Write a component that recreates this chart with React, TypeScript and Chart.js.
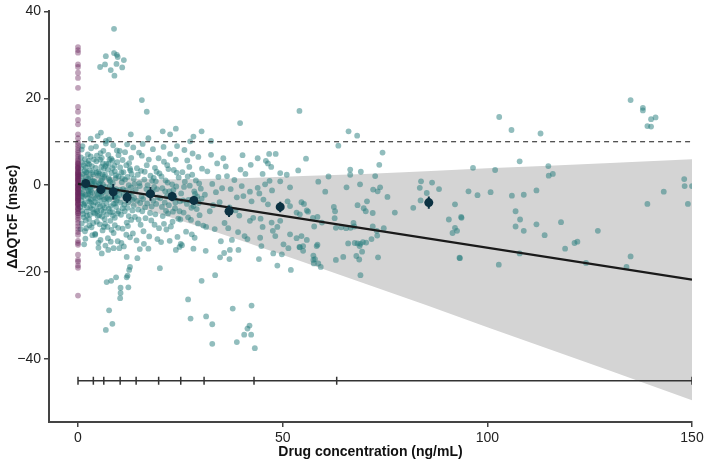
import React, { useEffect, useRef } from 'react';
import { Chart, registerables } from 'chart.js';
Chart.register(...registerables);

const FONT = "'Liberation Sans', Arial, sans-serif";

const xTickValues = [0, 50, 100, 150];
const yTickValues = [-40, -20, 0, 20, 40];
const xMin = -7.085;
const xMax = 150;
const yMin = -54.5;
const yMax = 40;

const refLineY = 10;
const refLineX = [-5.6, 150];

const fitX = [0, 150];
const fitY = [0.3, -21.75];

const bandX = [0, 5, 10, 15, 20, 30, 40, 55, 70, 85, 100, 115, 130, 150];
const bandUpper = [3.2, 2.3, 1.7, 1.4, 1.3, 1.4, 1.6, 2.1, 2.6, 3.2, 3.9, 4.5, 5.1, 6.0];
const bandLower = [-2.6, -3.1, -4.1, -5.2, -6.6, -9.6, -12.8, -17.7, -22.6, -27.6, -32.7, -37.7, -42.7, -49.5];

const meanX = [1.9, 5.6, 8.6, 12.0, 17.7, 23.0, 28.3, 36.9, 49.4, 85.7];
const meanY = [0.4, -1.0, -1.5, -2.8, -2.0, -2.6, -3.5, -6.0, -5.0, -4.0];
const meanErr = [0.5, 1.1, 1.8, 1.3, 1.6, 1.1, 1.0, 1.3, 1.2, 1.4];

const binEdges = [0, 3.75, 6.3, 10.3, 14.2, 19.7, 25.1, 30.8, 43.0, 63.2, 150];
const binBarY = -45;

const placeboY = [
  31.8, 31.1, 30.5, 27.8, 27.2, 25.9, 24.7, 22.4, 18.0, 16.9, 15.0, 14.0, 11.7, 10.8, 9.8, 9.2,
  8.6, 8.0, 7.5, 7.0, 6.5, 6.0, 5.6, 5.2, 4.8, 4.5, 4.2, 3.9, 3.6, 3.3, 3.0, 2.7, 2.4, 2.1, 1.8,
  1.5, 1.2, 0.9, 0.6, 0.3, 0.0, -0.3, -0.6, -0.9, -1.2, -1.5, -1.8, -2.1, -2.4, -2.7, -3.0, -3.3,
  -3.6, -3.9, -4.2, -4.5, -4.8, -5.2, -5.6, -6.0, -6.5, -7.0, -7.5, -8.0, -8.7, -9.4, -10.1,
  -10.8, -11.4, -12.8, -13.3, -13.7, -16.0, -17.2, -17.6, -18.5, -19.0, -25.4,
  5.0, 4.0, 3.0, 2.0, 1.0, 0.2, -0.8, -1.7, -2.6, -3.5, -4.4, -5.4, -6.4, 2.5, 1.4, -0.1, -1.0,
  -2.0, -3.1,
];

const obsPoints: [number, number][] = [
  // high outliers
  [8.8,36.0],[6.8,29.7],[8.8,30.4],[9.5,30.0],[9.7,29.5],[11.2,28.8],[6.6,27.8],[5.4,27.2],[8.0,26.5],
  [9.4,27.9],[10.8,27.1],[8.9,25.2],[15.6,19.6],[16.8,16.9],
  [3.1,10.7],[5.6,12.1],[6.8,10.2],[12.9,11.7],[20.7,12.4],[22.5,11.7],[23.9,13.0],[27.4,10.1],
  [28.2,11.2],[30.2,12.4],[32.5,10.2],[39.6,14.3],[54.1,17.1],
  // low outliers, 0-60
  [5.8,-15.7],[7.4,-14.9],[10.1,-14.5],[11.9,-16.5],[12.7,-18.8],[12.5,-19.5],[11.9,-21.2],[12.1,-20.8],
  [12.3,-23.5],[10.4,-23.6],[10.4,-24.8],[10.3,-26.0],[7.0,-22.3],[8.1,-22.0],[9.3,-21.2],[7.6,-28.8],
  [8.4,-31.9],[6.8,-33.3],[14.5,-16.8],[15.1,-14.7],[17.2,-14.6],[20.0,-19.1],[23.9,-14.9],[24.8,-14.2],
  [25.1,-13.5],[26.9,-26.3],[27.5,-30.7],[28.2,-14.6],[30.2,-22.0],[31.2,-15.1],[31.3,-30.2],[32.8,-32.0],
  [32.8,-36.5],[33.5,-20.7],[34.7,-16.6],[35.7,-15.6],[37.0,-17.0],[37.1,-14.9],[37.8,-28.4],[38.8,-36.1],
  [39.2,-14.9],[40.6,-34.4],[41.4,-33.0],[41.9,-32.3],[42.3,-34.4],[42.4,-27.7],[43.2,-37.5],[44.2,-17.0],
  [44.8,-14.0],[47.7,-15.7],[48.7,-18.5],[49.8,-15.9],[51.4,-14.5],[52.0,-19.5],[54.1,-14.2],[55.0,-15.1],
  [57.5,-16.2],[57.5,-17.2],[58.3,-14.0],[58.7,-18.0],[4.2,-11.4],[5.0,-13.2],
  // conc 0-4
  [0.5,2.1],[0.8,-3.5],[1.0,5.2],[1.2,-0.8],[1.4,-7.4],[1.6,3.3],[1.8,-2.2],[2.0,0.6],[2.2,-5.1],[2.4,7.1],
  [2.6,-1.4],[2.8,-9.2],[3.0,1.8],[3.2,-4.0],[3.4,4.4],[3.6,-0.2],[3.8,-6.3],[0.6,-10.1],[0.9,8.2],[1.1,-1.9],
  [1.3,1.1],[1.5,-4.6],[1.7,6.0],[1.9,-8.1],[2.1,-0.3],[2.3,2.9],[2.5,-3.0],[2.7,4.8],[2.9,-6.8],[3.1,-1.1],
  [3.3,0.4],[3.5,-11.5],[3.7,2.5],[3.9,-2.8],[0.7,3.9],[1.0,-5.9],[1.3,-2.7],[1.6,0.9],[1.9,4.1],[2.2,-7.0],
  [2.5,1.5],[2.8,-3.8],[3.1,6.6],[3.4,-5.5],[3.7,-8.7],[0.4,-1.6],[1.1,9.0],[1.8,-12.3],[2.4,-1.0],[3.0,-2.0],
  [3.6,3.0],[2.0,-9.9],[1.5,-13.6],[3.2,8.5],[2.6,5.6],[1.2,-6.6],[0.9,0.0],[3.8,1.0],[2.9,-0.6],[1.7,-4.1],
  [0.5,-5.0],[0.7,6.4],[0.9,-8.8],[1.1,2.6],[1.3,-4.3],[1.5,-0.4],[1.7,-10.6],[1.9,1.9],[2.1,-6.1],[2.3,5.0],
  [2.5,-2.1],[2.7,-7.8],[2.9,3.4],[3.1,-3.3],[3.3,-9.7],[3.5,0.9],[3.7,-4.6],[3.9,5.9],[1.0,-2.4],[2.0,2.9],
  [3.0,-5.2],[1.4,4.6],[2.6,-0.1],[3.4,-1.6],
  // conc 4-7
  [4.1,0.8],[4.3,-3.1],[4.5,5.5],[4.7,-6.0],[4.9,2.2],[5.1,-1.3],[5.3,-9.0],[5.5,7.4],[5.7,-2.5],[5.9,1.4],
  [6.1,-4.7],[6.3,3.8],[6.5,-7.8],[6.7,-0.4],[6.9,4.9],[4.2,-11.2],[4.4,8.9],[4.6,-1.8],[4.8,-4.4],[5.0,3.1],
  [5.2,-6.9],[5.4,0.2],[5.6,-3.6],[5.8,6.3],[6.0,-10.4],[6.2,-1.0],[6.4,1.9],[6.6,-5.2],[6.8,9.6],[4.3,4.0],
  [4.6,-8.4],[4.9,-2.1],[5.2,2.7],[5.5,-12.6],[5.8,-0.7],[6.1,5.0],[6.4,-3.3],[6.7,-13.9],[4.5,-5.7],[5.0,-14.4],
  [5.6,1.0],[6.2,7.9],[6.6,-8.9],[4.8,11.3],[5.4,-4.9],[6.0,2.5],[6.9,-2.9],[4.4,-0.1],[5.7,4.2],[6.3,-6.1],
  [4.2,-3.9],[4.5,2.9],[4.8,-7.1],[5.1,0.4],[5.4,5.9],[5.7,-5.8],[6.0,-1.7],[6.3,-9.6],[6.6,2.4],[6.9,-4.1],
  [4.6,6.8],[5.3,-2.8],[6.1,0.1],[6.7,4.4],[5.9,-7.2],[4.1,-6.5],
  // conc 7-10
  [7.1,-1.6],[7.3,3.6],[7.5,-5.4],[7.7,1.2],[7.9,-8.2],[8.1,6.1],[8.3,-2.7],[8.5,0.5],[8.7,-11.0],[8.9,4.5],
  [9.1,-4.2],[9.3,-0.9],[9.5,8.0],[9.7,-6.5],[9.9,2.0],[7.2,-9.6],[7.4,7.0],[7.6,-3.3],[7.8,-0.2],[8.0,-13.0],
  [8.2,2.8],[8.4,-6.2],[8.6,9.2],[8.8,-1.9],[9.0,-7.5],[9.2,1.6],[9.4,-3.6],[9.6,5.3],[9.8,-9.8],[7.5,4.9],
  [8.0,-4.8],[8.5,-7.0],[9.0,3.2],[9.5,-1.3],[7.3,-12.2],[7.9,0.9],[8.7,-14.5],[9.3,-5.0],[9.9,6.9],[8.2,-10.3],
  [7.6,10.5],[9.1,-2.4],[8.4,5.7],[7.1,-6.7],[9.7,-12.9],
  [7.2,-2.9],[7.5,1.6],[7.8,-6.1],[8.1,-0.9],[8.4,3.9],[8.7,-4.3],[9.0,-9.2],[9.3,2.3],[9.6,-3.0],[9.9,-6.0],
  [7.7,5.9],[8.9,-2.6],
  // conc 10-14
  [10.1,-2.3],[10.3,4.1],[10.5,-6.8],[10.7,0.7],[10.9,-10.0],[11.1,3.0],[11.3,-4.5],[11.5,7.6],[11.7,-1.2],
  [11.9,-8.6],[12.1,1.9],[12.3,-3.9],[12.5,5.1],[12.7,-12.0],[12.9,-0.5],[13.1,2.6],[13.3,-5.8],[13.5,8.7],
  [13.7,-2.9],[13.9,-7.3],[10.2,7.9],[10.6,-13.3],[11.0,-0.9],[11.4,-6.0],[11.8,4.6],[12.2,-9.4],[12.6,-2.0],
  [13.0,6.3],[13.4,-11.1],[13.8,0.3],[10.4,-4.0],[10.8,1.6],[11.2,-14.1],[11.6,-3.1],[12.0,9.4],[12.4,-7.1],
  [12.8,3.4],[13.2,-1.7],[13.6,-4.7],[10.9,5.8],
  [10.3,-1.1],[10.6,2.9],[10.9,-5.3],[11.2,-2.0],[11.5,1.3],[11.8,-11.4],[12.1,-5.2],[12.4,0.0],[12.7,3.8],
  [13.0,-8.0],[13.3,-3.4],[13.6,1.5],
  // conc 14-20
  [14.1,-1.0],[14.4,3.9],[14.7,-5.6],[15.0,0.5],[15.3,-9.1],[15.6,6.8],[15.9,-3.2],[16.2,1.3],[16.5,-7.6],
  [16.8,4.6],[17.1,-2.1],[17.4,-11.8],[17.7,2.2],[18.0,-4.9],[18.3,8.3],[18.6,-0.4],[18.9,-6.7],[19.2,3.1],
  [19.5,-2.8],[19.8,-9.9],[14.3,-12.7],[14.9,7.5],[15.5,-2.6],[16.1,-13.5],[16.7,-0.9],[17.3,5.9],[17.9,-8.1],
  [18.5,1.7],[19.1,-4.3],[19.7,6.2],[14.6,2.4],[15.2,-4.1],[15.8,9.5],[16.4,-5.1],[17.0,0.0],[17.6,-6.4],
  [18.2,-1.5],[18.8,4.0],[19.4,-12.4],[16.0,-10.6],[14.8,-7.9],[18.4,-3.6],[17.2,10.8],[15.4,3.3],[19.0,0.9],
  [14.5,-3.6],[15.1,-0.2],[15.7,-6.0],[16.3,3.1],[16.9,-4.2],[17.5,-1.6],[18.1,1.0],[18.7,-9.1],[19.3,-0.9],
  [19.9,2.7],
  // conc 20-25
  [20.1,-3.0],[20.4,2.0],[20.7,-7.1],[21.0,5.4],[21.3,-1.4],[21.6,-10.2],[21.9,0.6],[22.2,-4.6],[22.5,7.2],
  [22.8,-2.4],[23.1,-8.4],[23.4,3.5],[23.7,-5.3],[24.0,-0.3],[24.3,-11.9],[24.6,1.8],[24.9,-3.7],[20.3,-13.1],
  [20.9,8.8],[21.5,-5.9],[22.1,3.7],[22.7,-9.5],[23.3,-1.1],[23.9,5.9],[24.5,-7.7],[20.6,-0.7],[21.2,-4.0],
  [21.8,4.6],[22.4,-12.8],[23.0,0.2],[23.6,-2.9],[24.2,9.0],[24.8,-6.0],[22.0,-6.5],[21.0,-8.9],
  [20.5,-5.0],[21.4,1.1],[22.3,-1.4],[23.2,-6.1],[24.1,2.9],[21.7,-2.6],[23.8,-4.0],
  // conc 25-31
  [25.2,-1.9],[25.5,3.0],[25.8,-6.3],[26.1,0.8],[26.4,-10.7],[26.7,5.7],[27.0,-3.4],[27.3,-0.1],[27.6,-8.0],
  [27.9,2.4],[28.2,-4.8],[28.5,-12.1],[28.8,1.1],[29.1,-2.6],[29.4,6.5],[29.7,-6.9],[30.0,-0.8],[30.3,3.8],
  [30.6,-9.3],[25.4,-13.8],[26.0,8.1],[26.6,-4.3],[27.2,4.2],[27.8,-11.3],[28.4,-1.4],[29.0,-5.5],[29.6,0.4],
  [30.2,-3.1],[26.9,-7.4],[28.0,7.3],[29.3,-8.8],[25.7,-3.5],
  [25.0,-7.9],[25.9,-0.4],[26.8,2.0],[27.7,-5.2],[28.6,-2.0],[29.5,-4.1],
  // conc 31-40
  [31.0,-2.2],[31.6,3.2],[32.2,-6.0],[32.8,0.3],[33.4,-10.1],[34.0,5.0],[34.6,-3.9],[35.2,-0.7],[35.8,-8.7],
  [36.4,2.1],[37.0,-5.1],[37.6,-12.6],[38.2,1.2],[38.8,-2.8],[39.4,-7.0],[31.3,-9.6],[32.5,7.0],[33.7,-1.6],
  [34.9,-12.9],[36.1,4.3],[37.3,-0.9],[38.5,-5.8],[39.7,3.6],[33.0,-4.6],[35.5,6.2],[36.7,-9.9],[39.1,-10.8],
  [34.3,1.9],
  // conc 40-63
  [46.7,7.2],[48.3,7.2],[55.7,6.1],[46.4,5.0],[47.2,4.2],[45.9,5.6],[43.9,6.2],[40.2,6.9],[42.2,4.7],[40.9,2.6],
  [45.1,2.6],[49.4,2.8],[51.0,2.4],[53.8,3.4],[49.4,0.9],[51.8,-0.5],[45.7,0.2],[46.8,1.0],[47.4,-1.2],[43.9,-0.6],
  [44.3,-1.9],[42.0,-1.5],[40.0,-0.2],[40.4,-2.5],[42.4,-3.7],[45.3,-3.3],[46.4,-4.4],[51.2,-3.7],[51.8,-4.8],
  [54.6,-3.9],[55.9,-5.8],[53.4,-6.3],[54.2,-6.7],[49.4,-8.2],[47.3,-8.6],[48.7,-9.6],[44.6,-7.7],[42.8,-7.5],
  [42.0,-8.2],[45.1,-9.6],[40.7,-11.7],[41.4,-12.4],[44.5,-12.1],[47.6,-10.5],[48.2,-11.7],[51.8,-11.3],
  [53.4,-12.2],[54.6,-11.7],[50.2,-13.6],[55.0,-14.0],
  // conc 55-78
  [66.1,12.4],[68.2,11.4],[63.6,9.1],[74.4,7.5],[73.6,4.7],[66.5,3.6],[69.1,3.1],[66.5,2.4],[72.6,2.1],
  [65.6,-0.5],[68.9,0.2],[72.1,-1.0],[73.2,-1.4],[73.8,-0.5],[75.6,-2.7],[70.6,-3.7],[68.3,-4.6],[69.8,-5.3],
  [70.3,-6.0],[72.0,-6.4],[77.4,-6.3],[62.5,-5.0],[62.8,-6.0],[62.7,-7.6],[63.0,-9.8],[67.3,-8.7],[67.5,-9.5],
  [64.3,-9.7],[65.5,-9.9],[66.6,-9.8],[73.0,-10.5],[73.1,-11.6],[74.7,-9.9],[72.0,-9.5],[71.7,-12.4],
  [67.6,-13.3],[68.3,-13.4],[69.0,-13.5],[68.8,-14.0],[69.6,-13.1],[70.4,-13.2],[66.0,-13.4],[69.4,-15.3],
  [68.0,-16.3],[68.7,-17.1],[64.8,-16.5],[63.0,-17.2],[73.3,-16.6],[69.0,-20.7],[57.9,-17.0],[57.6,-18.0],
  [59.3,-18.8],[58.5,-13.7],[54.2,-14.3],[55.9,-12.6],[55.2,-4.3],[56.2,-6.1],[57.4,-7.5],[58.5,-7.3],
  [57.7,-9.5],[59.6,-8.6],[60.4,-1.5],[61.2,2.0],[58.7,0.8],
  // conc 78-100
  [83.8,0.9],[86.5,0.6],[88.2,-0.9],[83.5,-0.6],[85.2,-1.8],[83.7,-3.5],[81.9,-5.2],[92.1,-4.4],[93.7,-7.5],
  [90.6,-7.9],[92.1,-9.8],[91.5,-11.0],[92.6,-10.5],[93.2,-16.7],[95.4,-1.4],[96.5,4.0],[97.6,-2.3],
  [93.3,-16.8],[93.6,-7.3],
  // conc 100-150
  [100.8,-1.6],[101.9,3.5],[102.8,-18.3],[102.9,15.7],[105.9,12.7],[113.0,11.9],[135.0,19.6],[138.0,17.8],
  [138.0,17.2],[140.0,15.2],[141.1,15.6],[139.1,13.6],[140.0,13.5],[107.9,5.5],[114.9,4.4],[115.0,2.2],
  [116.0,2.6],[106.0,-2.4],[108.9,-2.2],[112.0,-1.2],[106.9,-6.0],[108.0,-7.9],[106.9,-9.5],[108.9,-10.5],
  [112.0,-9.0],[114.0,-11.5],[118.0,-8.5],[119.0,-14.6],[121.3,-13.3],[122.0,-13.0],[127.0,-10.5],
  [124.1,-17.9],[134.0,-18.8],[135.0,-16.4],[143.1,-1.5],[139.1,-4.3],[148.1,1.4],[148.2,-0.2],[150.0,-0.2],
  [149.0,-4.3],[107.9,-15.7],
];

const NAVY = '#0c3242';
const AXIS = '#444444';

export default function App() {
  const ref = useRef<HTMLCanvasElement>(null);

  useEffect(() => {
    const canvas = ref.current;
    if (!canvas) return;
    const datasets: any[] = [];

    datasets.push({
      data: meanX.map((x, i) => ({ x, y: meanY[i] })),
      showLine: false,
      pointRadius: 4.5,
      pointBackgroundColor: NAVY,
      pointBorderWidth: 0,
      order: 0,
    });
    meanX.forEach((x, i) => {
      datasets.push({
        data: [
          { x, y: meanY[i] - meanErr[i] },
          { x, y: meanY[i] + meanErr[i] },
        ],
        showLine: true,
        borderColor: NAVY,
        borderWidth: 2,
        pointRadius: 0,
        order: 1,
      });
    });
    datasets.push({
      data: fitX.map((x, i) => ({ x, y: fitY[i] })),
      showLine: true,
      borderColor: '#1a1a1a',
      borderWidth: 2.2,
      pointRadius: 0,
      order: 2,
    });
    datasets.push({
      data: refLineX.map((x) => ({ x, y: refLineY })),
      showLine: true,
      borderColor: '#1a1a1a',
      borderWidth: 1.2,
      borderDash: [5, 4],
      pointRadius: 0,
      order: 3,
    });
    datasets.push({
      data: binEdges.map((x) => ({ x, y: binBarY })),
      showLine: true,
      borderColor: '#333333',
      borderWidth: 1.5,
      pointStyle: 'line',
      pointRotation: 90,
      pointRadius: 4,
      pointBorderColor: '#333333',
      pointBorderWidth: 1.5,
      order: 4,
    });
    datasets.push({
      data: placeboY.map((y) => ({ x: 0, y })),
      showLine: false,
      pointRadius: 2.9,
      pointBackgroundColor: 'rgba(105,35,90,0.42)',
      pointBorderWidth: 0,
      order: 5,
    });
    datasets.push({
      data: obsPoints.map((p) => ({ x: p[0], y: p[1] })),
      showLine: false,
      pointRadius: 2.9,
      pointBackgroundColor: 'rgba(36,124,124,0.5)',
      pointBorderWidth: 0,
      order: 6,
    });
    datasets.push({
      data: bandX.map((x, i) => ({ x, y: bandUpper[i] })),
      showLine: true,
      borderWidth: 0,
      borderColor: 'rgba(0,0,0,0)',
      pointRadius: 0,
      fill: '+1',
      backgroundColor: '#d4d4d4',
      order: 7,
    });
    datasets.push({
      data: bandX.map((x, i) => ({ x, y: bandLower[i] })),
      showLine: true,
      borderWidth: 0,
      borderColor: 'rgba(0,0,0,0)',
      pointRadius: 0,
      fill: false,
      order: 8,
    });

    const chart = new Chart(canvas, {
      type: 'scatter',
      data: { datasets },
      options: {
        responsive: false,
        animation: false,
        devicePixelRatio: 1,
        events: [],
        layout: { padding: { top: 9, right: 17, left: 0, bottom: 0 } },
        plugins: {
          legend: { display: false },
          tooltip: { enabled: false },
        },
        scales: {
          x: {
            type: 'linear',
            min: xMin,
            max: xMax,
            afterBuildTicks: (s: any) => {
              s.ticks = xTickValues.map((v) => ({ value: v }));
            },
            afterFit: (s: any) => {
              s.height = 45;
            },
            grid: { drawOnChartArea: false, drawTicks: true, tickLength: 5, color: AXIS, lineWidth: 1.5 },
            border: { display: true, color: AXIS, width: 2 },
            ticks: { font: { family: FONT, size: 14 }, color: '#222', padding: 3, maxRotation: 0 },
            title: {
              display: true,
              text: 'Drug concentration (ng/mL)',
              font: { family: FONT, size: 14, weight: 'bold' },
              color: '#111',
              padding: { top: 0, bottom: 6 },
            },
          },
          y: {
            type: 'linear',
            min: yMin,
            max: yMax,
            afterBuildTicks: (s: any) => {
              s.ticks = yTickValues.map((v) => ({ value: v }));
            },
            afterFit: (s: any) => {
              s.width = 49;
            },
            grid: { drawOnChartArea: false, drawTicks: true, tickLength: 5, color: AXIS, lineWidth: 1.5 },
            border: { display: true, color: AXIS, width: 2 },
            ticks: {
              font: { family: FONT, size: 14 },
              color: '#222',
              padding: 3,
              callback: (v: any) => String(v).replace('-', '\u2212'),
            },
            title: {
              display: true,
              text: '\u0394\u0394QTcF (msec)',
              font: { family: FONT, size: 14, weight: 'bold' },
              color: '#111',
              padding: { top: 5, bottom: 0 },
            },
          },
        },
      } as any,
    });
    return () => chart.destroy();
  }, []);

  return (
    <div style={{ position: 'fixed', left: 0, top: 0, width: 709, height: 467, background: '#fff' }}>
      <canvas ref={ref} width={709} height={467} style={{ display: 'block' }} />
    </div>
  );
}
